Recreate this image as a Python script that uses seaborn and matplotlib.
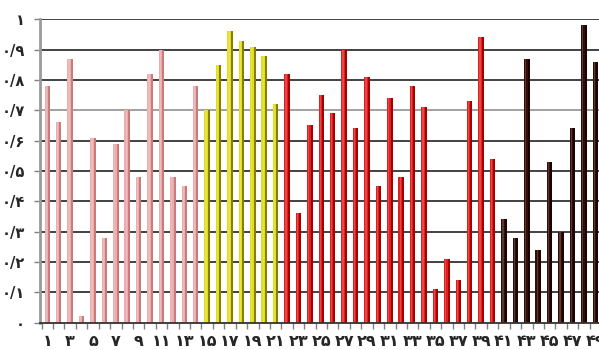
import matplotlib
matplotlib.use("Agg")
import matplotlib.pyplot as plt
import seaborn as sns
import pandas as pd
import numpy as np
from matplotlib.patches import Rectangle

# ---- data ----
categories = list(range(1, 50))
values = [0.78, 0.66, 0.87, 0.02, 0.61, 0.28, 0.59, 0.70, 0.48, 0.82,
          0.90, 0.48, 0.45, 0.78, 0.70, 0.85, 0.96, 0.93, 0.91, 0.88,
          0.72, 0.82, 0.36, 0.65, 0.75, 0.69, 0.90, 0.64, 0.81, 0.45,
          0.74, 0.48, 0.78, 0.71, 0.11, 0.21, 0.14, 0.73, 0.94, 0.54,
          0.34, 0.28, 0.87, 0.24, 0.53, 0.30, 0.64, 0.98, 0.86]
groups = (["A"] * 14) + (["B"] * 7) + (["C"] * 19) + (["D"] * 9)
front_colors = {"A": "#F5A3A3", "B": "#FFFF00", "C": "#FF0000", "D": "#3A0800"}
side_colors = {"A": "#C97B7B", "B": "#8A7E00", "C": "#A80000", "D": "#1A0300"}
y_ticks = [i / 10 for i in range(11)]

fa = str.maketrans("0123456789", "۰۱۲۳۴۵۶۷۸۹")
def fa_num(s):
    return str(s).translate(fa)

y_labels = ["۰"] + [fa_num("0/%d" % i) for i in range(1, 10)] + ["۱"]

df = pd.DataFrame({"cat": [str(c) for c in categories], "val": values, "grp": groups})

sns.set_theme(style="white")
plt.rcParams["font.family"] = ["DejaVu Sans"]

fig = plt.figure(figsize=(5.99, 3.50), dpi=100)
ax = fig.add_axes([40 / 599, 27.5 / 350, 561 / 599, 303.2 / 350])

sns.barplot(data=df, x="cat", y="val", hue="grp", palette=front_colors,
            dodge=False, width=0.48, legend=False, ax=ax, zorder=3,
            linewidth=0)

# darker right side strip for a 3D look
for p, g in zip(ax.patches, groups):
    x, w, h = p.get_x(), p.get_width(), p.get_height()
    ax.add_patch(Rectangle((x + w * 0.64, 0), w * 0.36, h,
                           facecolor=side_colors[g], edgecolor="none", zorder=4))
    ax.add_patch(Rectangle((x + w * 0.2, 0), w * 0.22, h,
                           facecolor="white", alpha=0.18, edgecolor="none", zorder=4))

ax.set_xlim(-0.64, 48.36)
ax.set_ylim(0, 1.0)
ax.set_yticks(y_ticks)
ax.set_yticklabels(y_labels, fontsize=10.5, fontweight="bold")
xt = list(range(0, 49, 2))
ax.set_xticks(xt)
ax.set_xticklabels([fa_num(categories[i]) for i in xt], fontsize=11.5, fontweight="bold")
ax.set_xticks(np.arange(-0.5, 49, 1.0), minor=True)
ax.tick_params(axis="x", which="major", length=0, pad=8)
ax.tick_params(axis="x", which="minor", length=4, width=1, color="#808080", direction="out", bottom=True)
ax.tick_params(axis="y", length=4, width=1, color="#808080", direction="out", left=True, pad=7)
ax.set_xlabel("")
ax.set_ylabel("")

for yv in y_ticks[1:]:
    c = "#9A9A9A" if abs(yv - 0.7) < 1e-6 else "#333333"
    ax.axhline(yv, color=c, lw=1.3, zorder=1)

for s in ["top", "right"]:
    ax.spines[s].set_visible(False)
ax.spines["left"].set_color("#9A9A9A")
ax.spines["left"].set_linewidth(2)
ax.spines["bottom"].set_color("#333333")
ax.spines["bottom"].set_linewidth(1.3)
ax.spines["bottom"].set_zorder(5)

fig.savefig("out.png", dpi=100)
